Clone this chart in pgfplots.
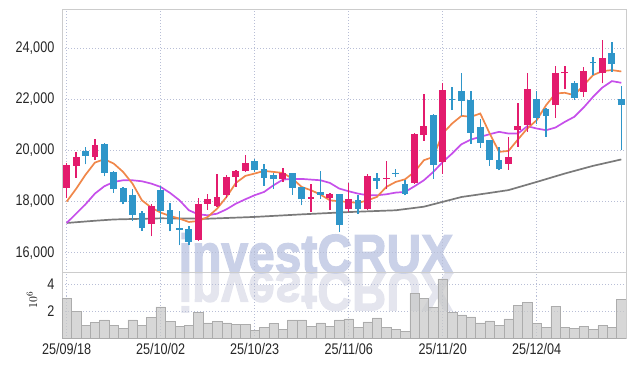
\documentclass[border=0pt]{standalone}
\usepackage{fontspec}
\setmainfont{Liberation Sans}[FakeStretch=0.82]
\newfontfamily\wmfont{Liberation Sans}[BoldFeatures={FakeBold=2.5}]
\usepackage{pgfplots}
\usepackage{pgfplotstable}
\pgfplotsset{compat=1.18}
\definecolor{cred}{HTML}{E31B6D}
\definecolor{cblue}{HTML}{2F96C9}
\definecolor{maorange}{HTML}{F0874A}
\definecolor{mapurple}{HTML}{C64FEA}
\definecolor{magray}{HTML}{7A7A7A}
\definecolor{gridc}{HTML}{B8BED6}
\definecolor{framec}{HTML}{CCCCCC}
\definecolor{volc}{HTML}{C8C8C8}
\definecolor{voledge}{HTML}{ACACAC}
\definecolor{wmc}{HTML}{CAD1E8}
\definecolor{wmr}{HTML}{E4E5EE}

\pgfplotstableread{
x o h l c
0 18535 19528 18143 19423
1 19397 19946 18940 19737
3 19750 20469 19620 20208
9 17123 17894 16640 17816
14 16508 18143 16456 17920
15 17920 18313 17685 18116
16 17829 19097 17790 18168
17 18260 19045 18156 18966
18 18966 19227 18574 19188
19 19201 19842 19162 19528
23 18888 19332 18770 19110
26 18103 18704 17594 18182
28 18130 18320 17685 18286
30 17711 18731 17581 18116
32 17698 19097 17659 19018
34 18888 19580 18509 18940
37 18731 20691 18704 20639
38 20613 22194 20391 20953
40 19554 22626 19097 22364
47 19476 20534 19253 19737
48 20796 21841 20142 20953
49 21018 23018 20731 22403
52 21776 23305 21292 23031
53 23018 23305 22390 23070
55 22299 23279 22103 23109
57 23044 24325 22626 23619
}\redtab

\pgfplotstableread{
x o h l c
2 19998 20142 19462 19789
4 20273 20290 18992 19123
5 19149 19188 18339 18495
6 18535 18574 17894 17972
7 18247 18509 17241 17476
8 17554 17633 16849 16953
10 18443 18613 17162 17633
11 17659 17960 16836 17136
12 16966 17633 16287 16888
13 16914 17032 16287 16417
20 19580 19685 19162 19227
21 19267 19489 18613 18927
22 19045 19123 18509 18874
24 19110 19130 18273 18535
25 18561 18580 17855 18090
27 18365 19201 18116 18260
29 18286 18300 16809 17084
31 18051 18247 17528 17711
33 18940 19123 18496 18809
35 19123 19293 18966 19097
36 18704 18835 18247 18299
39 21397 21420 18901 19450
41 22011 22495 21580 21959
42 22325 23018 21358 21946
43 21985 22325 20273 20691
44 20939 21227 20116 20299
45 20403 20420 19384 19619
46 19646 20142 19227 19293
50 22011 22325 21031 21292
51 21619 21680 20534 21358
54 22639 22717 21972 22063
56 23462 23671 22952 23410
58 23828 24259 23083 23384
59 22011 22521 20011 21776
}\bluetab

\pgfplotstableread{
x ma5 ma20
0 18000 17163
1 18500 17528
2 19050 17894
3 19528 18313
4 19659 18600
5 19489 18770
6 19162 18835
7 18704 18835
8 18051 18796
9 17764 18704
10 17567 18574
11 17437 18339
12 17332 18051
13 17202 17659
14 17241 17502
15 17398 17463
16 17724 17528
17 18182 17698
18 18731 17920
19 19005 18090
20 19100 18250
21 19201 18378
22 19162 18639
23 19123 18861
24 18901 18888
25 18574 18888
26 18444 18861
27 18273 18835
28 18051 18731
29 18012 18509
30 17986 18404
31 17946 18313
32 18051 18247
33 18182 18247
34 18574 18286
35 18770 18352
36 18874 18378
37 19162 18600
38 19620 18835
39 19750 19162
40 20665 19550
41 21057 19881
42 21358 20247
43 21319 20430
44 21449 20534
45 20665 20639
46 19946 20731
47 19985 20665
48 20430 20665
49 20861 20953
50 21188 20861
51 21776 20796
52 22233 20900
53 22260 21123
54 22168 21319
55 22560 21685
56 22952 22103
57 23109 22469
58 23148 22717
59 23096 22652
}\matab

\pgfplotstableread{
x ma
0 17163
3 17250
5 17300
10 17345
15 17330
20 17400
25 17500
30 17590
35 17660
38 17800
40 17990
42 18180
45 18340
47 18450
50 18770
53 19100
56 19400
59 19650
}\malong

\pgfplotstableread{
x v
0 2.99
1 1.98
2 0.97
3 1.18
4 1.38
5 0.97
6 0.73
7 1.38
8 0.97
9 1.55
10 2.34
11 1.26
12 0.87
13 0.97
14 1.91
15 1.16
16 1.26
17 1.16
18 1.02
19 1.02
20 0.58
21 0.80
22 1.09
23 0.66
24 1.38
25 1.38
26 0.87
27 1.16
28 0.87
29 1.38
30 1.45
31 0.80
32 1.23
33 1.52
34 0.80
35 0.66
36 0.51
37 3.33
38 2.97
39 2.32
40 4.41
41 1.96
42 1.74
43 1.60
44 1.16
45 1.31
46 0.95
47 1.45
48 2.46
49 2.68
50 1.09
51 0.80
52 2.39
53 0.80
54 0.73
55 0.87
56 0.66
57 0.95
58 0.80
59 2.90
}\voltab

\pgfplotsset{
  panel/.style={
    scale only axis, width=564pt,
    xmin=-0.5, xmax=59.5,
    xtick={0,10,20,30,40,50},
    scaled y ticks=false, scaled x ticks=false,
    grid=major,
    major grid style={gridc, dash pattern=on 1pt off 2pt, line width=0.7pt},
    axis line style={framec, line width=0.8pt},
    major tick length=0pt,
    tick label style={font=\fontsize{15.4}{15.4}\selectfont, text=black!85},
    yticklabel style={anchor=east, inner sep=0pt, xshift=-7.5pt},
    xticklabel style={anchor=north, inner sep=0pt, yshift=-4.8pt},
  },
  wick/.style={draw=none, mark=none, forget plot,
    error bars/.cd, y dir=plus, y explicit, error mark=none,
    error bar style={line width=1.3pt, draw=#1, solid}},
  body/.style={draw=none, mark=none, forget plot,
    error bars/.cd, y dir=plus, y explicit, error mark=none,
    error bar style={line width=6.8pt, draw=#1, solid}},
}

\begin{document}
\begin{tikzpicture}
\useasboundingbox (0pt,0pt) rectangle (635pt,-366pt);
% watermark
\node[anchor=base, xscale=0.88, text=wmr, inner sep=0pt, yscale=-1,
  font=\wmfont\bfseries\fontsize{54.5}{54.5}\selectfont] at (316pt,-272.7pt) {investCRUX};
\node[anchor=base, xscale=0.88, text=wmc, inner sep=0pt,
  font=\wmfont\bfseries\fontsize{54.5}{54.5}\selectfont] at (316pt,-272.7pt) {investCRUX};

\begin{axis}[panel, at={(62pt,-9pt)}, anchor=north west, height=263.7pt,
  ymin=15216, ymax=25541,
  xticklabel=\empty,
  ytick={16000,18000,20000,22000,24000},
  yticklabels={{16,000},{18,000},{20,000},{22,000},{24,000}},
]
\addplot[magray, line width=1.7pt] table[x=x, y=ma] \malong;
\addplot[mapurple, line width=1.7pt] table[x=x, y=ma20] \matab;
\addplot[maorange, line width=1.7pt] table[x=x, y=ma5] \matab;
\addplot[wick=cred] table[x=x, y=l, y error expr=\thisrow{h}-\thisrow{l}] \redtab;
\addplot[wick=cblue] table[x=x, y=l, y error expr=\thisrow{h}-\thisrow{l}] \bluetab;
\addplot[body=cred] table[x=x, y=o, y error expr=\thisrow{c}-\thisrow{o}] \redtab;
\addplot[body=cblue] table[x=x, y=c, y error expr=\thisrow{o}-\thisrow{c}] \bluetab;
\end{axis}

\begin{axis}[panel, at={(62pt,-272.7pt)}, anchor=north west, height=65.8pt,
  ymin=0, ymax=4.86,
  xticklabels={25/09/18,25/10/02,25/10/23,25/11/06,25/11/20,25/12/04},
  ytick={2,4}, yticklabels={2,4},
]
\addplot[ybar, bar width=1, bar shift=0pt, fill=volc, fill opacity=0.72,
  draw=voledge, line width=0.5pt] table[x=x, y=v] \voltab;
\end{axis}
\node[rotate=90, inner sep=0pt, font=\fontsize{13}{13}\selectfont] at (32pt,-300pt) {$10^6$};
\end{tikzpicture}
\end{document}
